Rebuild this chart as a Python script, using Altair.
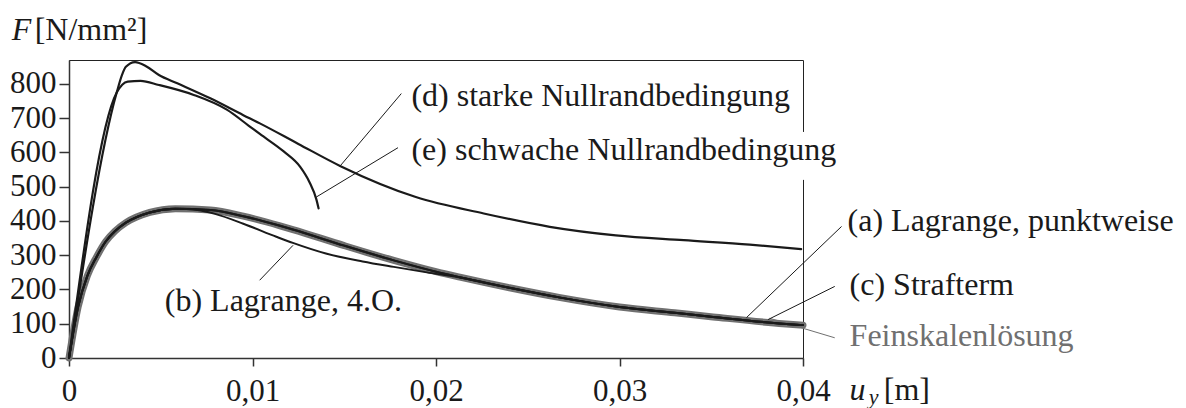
import altair as alt
import pandas as pd

# ---------------- data ----------------
X_TICKS = [0, 0.01, 0.02, 0.03, 0.04]
X_TICK_LABELS = ["0", "0,01", "0,02", "0,03", "0,04"]
Y_TICKS = [0, 100, 200, 300, 400, 500, 600, 700, 800]

# Feinskalenlösung (thick grey) and (a), (c) which lie on it
FINE_X = [0, 0.0005, 0.001, 0.0015, 0.002, 0.0025, 0.0031, 0.0044, 0.0058, 0.0077, 0.0095,
          0.0115, 0.0122, 0.0150, 0.0177, 0.0200, 0.0213, 0.0240, 0.0267, 0.0300, 0.0330,
          0.0351, 0.0387, 0.0400]
FINE_Y = [0, 150, 240, 295, 340, 370, 395, 425, 436, 432, 414,
          386, 375, 328, 285, 252, 236, 205, 177, 149, 132,
          120, 101, 96]
A_X = FINE_X
A_Y = FINE_Y
C_X = FINE_X
C_Y = FINE_Y

# (b) Lagrange, 4.O.
B_X = [0, 0.0005, 0.001, 0.0015, 0.002, 0.0025, 0.0031, 0.0044, 0.0058, 0.0070, 0.0080,
       0.0095, 0.0113, 0.0122, 0.0140, 0.0160, 0.0177, 0.0195, 0.0213, 0.0240, 0.0267,
       0.0300, 0.0330, 0.0351, 0.0387, 0.0400]
B_Y = [0, 150, 240, 295, 340, 370, 395, 425, 436, 432, 420,
       392, 354, 336, 305, 282, 266, 250, 235, 205, 177,
       149, 132, 120, 101, 96]

# (d) starke Nullrandbedingung
D_X = [0, 0.0026, 0.0029, 0.0031, 0.0036, 0.0042, 0.0049, 0.0059, 0.0077, 0.0095, 0.0104,
       0.0125, 0.0148, 0.0189, 0.0226, 0.0262, 0.0298, 0.0335, 0.0371, 0.0399]
D_Y = [0, 775, 828, 850, 864, 852, 826, 802, 758, 709, 685,
       625, 560, 470, 422, 383, 358, 344, 331, 318]

# (e) schwache Nullrandbedingung
E_X = [0, 0.0026, 0.0029, 0.0032, 0.0039, 0.0049, 0.0068, 0.0086, 0.0098, 0.0104, 0.0117,
       0.0126, 0.0131, 0.01348, 0.0136]
E_Y = [0, 775, 798, 807, 809, 797, 768, 725, 678, 654, 603,
       558, 514, 463, 437]

# annotation texts and anchor points (data units)
LABEL_TEXT = ["(d) starke Nullrandbedingung", "(e) schwache Nullrandbedingung",
              "(b) Lagrange, 4.O.", "(a) Lagrange, punktweise", "(c) Strafterm"]
LABEL_X = [0.01866, 0.01866, 0.00522, 0.04243, 0.04254]
LABEL_Y = [737, 577, 136, 372, 184]

GREY_LABEL_TEXT = ["Feinskalenlösung"]
GREY_LABEL_X = [0.04254]
GREY_LABEL_Y = [35]

# leader lines: start (on curve) -> end (near label)
LEAD_X1 = [0.01475, 0.01348, 0.01221, 0.03692, 0.03809]
LEAD_Y1 = [559, 470, 329, 118, 112]
LEAD_X2 = [0.01811, 0.01793, 0.01039, 0.04210, 0.04173]
LEAD_Y2 = [772, 614, 227, 384, 209]
GREY_LEAD_X1 = [0.03818]
GREY_LEAD_Y1 = [116]
GREY_LEAD_X2 = [0.04173]
GREY_LEAD_Y2 = [59]

# axis titles
TITLE_ITALIC = ["F", "u"]
TITLE_ITALIC_X = [-0.00312, 0.04254]
TITLE_ITALIC_Y = [928, -124]
TITLE_UPRIGHT = ["[N/mm²]", "[m]"]
TITLE_UPRIGHT_X = [-0.00187, 0.04440]
TITLE_UPRIGHT_Y = [928, -124]
SUB_TEXT = ["y"]
SUB_X = [0.04358]
SUB_Y = [-134]

# gap in the right frame behind label (e)
GAP_X = [0.0397]
GAP_X2 = [0.0405]
GAP_Y = [520]
GAP_Y2 = [660]

# ---------------- chart ----------------
FONT = "Liberation Serif"
BLACK = "#1a1a1a"
GREY = "#707070"

xs = alt.Scale(domain=[0, 0.04], nice=False, zero=False)
ys = alt.Scale(domain=[0, 870], nice=False, zero=False)

label_expr = "'" + X_TICK_LABELS[-1] + "'"
for v, lab in reversed(list(zip(X_TICKS[:-1], X_TICK_LABELS[:-1]))):
    label_expr = f"abs(datum.value - {v}) < 1e-9 ? '{lab}' : ({label_expr})"

x_axis = alt.Axis(values=X_TICKS, labelExpr=label_expr, title=None, grid=False,
                  tickSize=8, labelPadding=34, labelBaseline="alphabetic",
                  labelFont=FONT, labelFontSize=31, labelColor=BLACK,
                  domainColor="#333333", domainWidth=1.5, tickColor="#333333",
                  tickWidth=1.5, labelFlush=False, labelOverlap=False)
y_axis = alt.Axis(values=Y_TICKS, title=None, grid=False, tickSize=10, labelPadding=3,
                  labelBaseline="middle", labelFont=FONT, labelFontSize=31,
                  labelColor=BLACK, domainColor="#333333", domainWidth=1.5,
                  tickColor="#333333", tickWidth=1.5, labelOverlap=False)

X_ENC = dict(scale=xs, axis=x_axis)
Y_ENC = dict(scale=ys, axis=y_axis)


def line_layer(xv, yv, color, width):
    df = pd.DataFrame({"x": xv, "y": yv})
    return alt.Chart(df).mark_line(interpolate="monotone", color=color, strokeWidth=width,
                                   strokeCap="round", strokeJoin="round").encode(
        x=alt.X("x:Q", **X_ENC),
        y=alt.Y("y:Q", **Y_ENC),
    )


def text_layer(txt, xv, yv, color, size, style="normal"):
    df = pd.DataFrame({"x": xv, "y": yv, "t": txt})
    return alt.Chart(df).mark_text(align="left", baseline="alphabetic", font=FONT,
                                   fontSize=size, fontStyle=style, color=color).encode(
        x=alt.X("x:Q", **X_ENC),
        y=alt.Y("y:Q", **Y_ENC),
        text="t:N",
    )


def rule_layer(x1, y1, x2, y2, color, width):
    df = pd.DataFrame({"x": x1, "y": y1, "x2": x2, "y2": y2})
    return alt.Chart(df).mark_rule(color=color, strokeWidth=width).encode(
        x=alt.X("x:Q", **X_ENC),
        y=alt.Y("y:Q", **Y_ENC),
        x2="x2:Q",
        y2="y2:Q",
    )


gap_df = pd.DataFrame({"x": GAP_X, "x2": GAP_X2, "y": GAP_Y, "y2": GAP_Y2})
gap = alt.Chart(gap_df).mark_rect(color="white").encode(
    x=alt.X("x:Q", **X_ENC), x2="x2:Q",
    y=alt.Y("y:Q", **Y_ENC), y2="y2:Q",
)

layers = [
    gap,
    rule_layer(GREY_LEAD_X1, GREY_LEAD_Y1, GREY_LEAD_X2, GREY_LEAD_Y2, GREY, 1),
    line_layer(FINE_X, FINE_Y, GREY, 7),
    line_layer(A_X, A_Y, BLACK, 2),
    line_layer(C_X, C_Y, BLACK, 2),
    line_layer(B_X, B_Y, BLACK, 2),
    line_layer(D_X, D_Y, BLACK, 2.2),
    line_layer(E_X, E_Y, BLACK, 2.2),
    rule_layer(LEAD_X1, LEAD_Y1, LEAD_X2, LEAD_Y2, BLACK, 1),
    text_layer(LABEL_TEXT, LABEL_X, LABEL_Y, BLACK, 32),
    text_layer(GREY_LABEL_TEXT, GREY_LABEL_X, GREY_LABEL_Y, GREY, 32),
    text_layer(TITLE_ITALIC, TITLE_ITALIC_X, TITLE_ITALIC_Y, BLACK, 32, "italic"),
    text_layer(TITLE_UPRIGHT, TITLE_UPRIGHT_X, TITLE_UPRIGHT_Y, BLACK, 32),
    text_layer(SUB_TEXT, SUB_X, SUB_Y, BLACK, 22, "italic"),
]

chart = alt.layer(*layers).properties(
    width=734, height=298,
    autosize=alt.AutoSizeParams(type="none"),
    padding={"left": 61, "top": 52, "right": 375, "bottom": 50},
).configure(
    background="white",
    view=alt.ViewConfig(stroke="#222222", strokeWidth=1),
)

chart.save("out.html", embed_options={"renderer": "svg", "actions": False})
